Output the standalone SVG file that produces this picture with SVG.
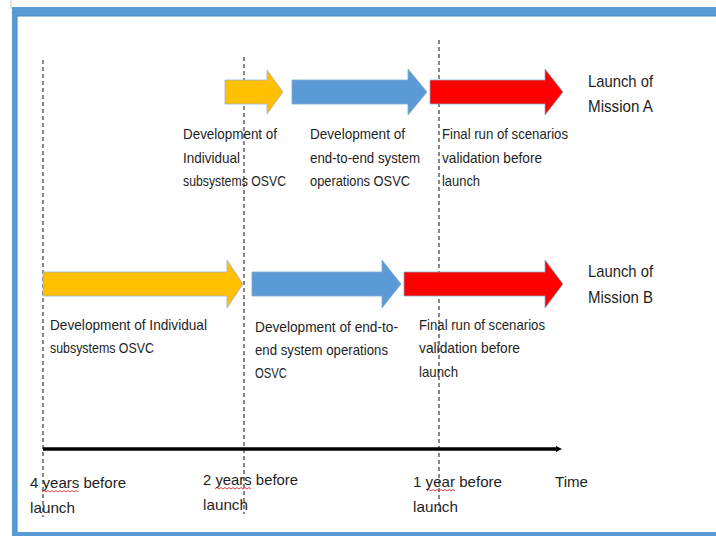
<svg xmlns="http://www.w3.org/2000/svg" width="716" height="536" viewBox="0 0 716 536">
  <style>
    .lbl { font-family: "Liberation Sans", Arial, sans-serif; font-size: 15px; fill: #1e1e1e; }
    .big { font-family: "Liberation Sans", Arial, sans-serif; font-size: 17px; fill: #1e1e1e; }
    .guide { stroke: #111; stroke-width: 1; stroke-dasharray: 4 3; fill: none; }
    .yellow { fill: #FFC000; stroke: #9db3d6; stroke-width: 0.8; }
    .blue { fill: #5B9BD5; stroke: #7fa7d4; stroke-width: 0.8; }
    .red { fill: #FF0000; stroke: #8aa6cf; stroke-width: 0.8; }
    .squiggle { fill: none; stroke: #e03030; stroke-width: 0.9; }
  </style>
  <defs>
    <marker id="axisHead" viewBox="0 0 6 6" refX="1" refY="3" markerWidth="6" markerHeight="6" markerUnits="userSpaceOnUse" orient="auto">
      <path d="M0,0 L6,3 L0,6 Z" fill="#000"/>
    </marker>
  </defs>

  <rect width="716" height="536" fill="#ffffff"/>

  <!-- window frame -->
  <line x1="11" y1="0" x2="11" y2="9" stroke="#c8c8c8" stroke-width="1"/>
  <path d="M12,7 H716 V536 H12 Z M17,16 V532 H716 V16 Z" fill="#5B9BD5" fill-rule="evenodd"/>
  <path d="M17,16 H716 M17,16 V532" stroke="#4a86c0" stroke-width="1" fill="none"/>

  <g id="connectors">
    <!-- milestone guides -->
    <line class="guide" x1="43" y1="60" x2="43" y2="517"/>
    <line class="guide" x1="244" y1="57" x2="244" y2="514"/>
    <line class="guide" x1="439" y1="40" x2="439" y2="512"/>
    <!-- time axis -->
    <line x1="43" y1="449" x2="557" y2="449" stroke="#000" stroke-width="3.5" marker-end="url(#axisHead)"/>
  </g>

  <!-- Mission A row -->
  <g id="a-individual">
    <path class="yellow" d="M225,80 H267 V70 L283,92 L267,114 V104 H225 Z"/>
    <text class="lbl" x="183" y="139" textLength="94" lengthAdjust="spacingAndGlyphs">Development of</text>
    <text class="lbl" x="183" y="163" textLength="57" lengthAdjust="spacingAndGlyphs">Individual</text>
    <text class="lbl" x="183" y="186" textLength="103" lengthAdjust="spacingAndGlyphs">subsystems OSVC</text>
  </g>
  <g id="a-end-to-end">
    <path class="blue" d="M292,80 H408 V69 L427,92 L408,115 V104 H292 Z"/>
    <text class="lbl" x="310" y="139" textLength="95" lengthAdjust="spacingAndGlyphs">Development of</text>
    <text class="lbl" x="310" y="163" textLength="110" lengthAdjust="spacingAndGlyphs">end-to-end system</text>
    <text class="lbl" x="310" y="186" textLength="100" lengthAdjust="spacingAndGlyphs">operations OSVC</text>
  </g>
  <g id="a-final-run">
    <path class="red" d="M430,80 H545 V69 L563,92 L545,115 V104 H430 Z"/>
    <text class="lbl" x="442" y="139" textLength="126" lengthAdjust="spacingAndGlyphs">Final run of scenarios</text>
    <text class="lbl" x="442" y="163" textLength="100" lengthAdjust="spacingAndGlyphs">validation before</text>
    <text class="lbl" x="442" y="186" textLength="38" lengthAdjust="spacingAndGlyphs">launch</text>
  </g>
  <g id="a-launch">
    <text class="big" x="588" y="87" textLength="65" lengthAdjust="spacingAndGlyphs">Launch of</text>
    <text class="big" x="588" y="112" textLength="65" lengthAdjust="spacingAndGlyphs">Mission A</text>
  </g>

  <!-- Mission B row -->
  <g id="b-individual">
    <path class="yellow" d="M43,272 H227 V260 L243,284 L227,308 V296 H43 Z"/>
    <text class="lbl" x="50" y="330" textLength="157" lengthAdjust="spacingAndGlyphs">Development of Individual</text>
    <text class="lbl" x="50" y="353" textLength="104" lengthAdjust="spacingAndGlyphs">subsystems OSVC</text>
  </g>
  <g id="b-end-to-end">
    <path class="blue" d="M252,272 H382 V260 L401,284 L382,308 V296 H252 Z"/>
    <text class="lbl" x="255" y="332" textLength="143" lengthAdjust="spacingAndGlyphs">Development of end-to-</text>
    <text class="lbl" x="255" y="355" textLength="133" lengthAdjust="spacingAndGlyphs">end system operations</text>
    <text class="lbl" x="255" y="378" textLength="32" lengthAdjust="spacingAndGlyphs">OSVC</text>
  </g>
  <g id="b-final-run">
    <path class="red" d="M404,272 H545 V260 L563,284 L545,308 V296 H404 Z"/>
    <text class="lbl" x="419" y="330" textLength="126" lengthAdjust="spacingAndGlyphs">Final run of scenarios</text>
    <text class="lbl" x="419" y="353" textLength="101" lengthAdjust="spacingAndGlyphs">validation before</text>
    <text class="lbl" x="419" y="377" textLength="39" lengthAdjust="spacingAndGlyphs">launch</text>
  </g>
  <g id="b-launch">
    <text class="big" x="588" y="277" textLength="65" lengthAdjust="spacingAndGlyphs">Launch of</text>
    <text class="big" x="588" y="303" textLength="65" lengthAdjust="spacingAndGlyphs">Mission B</text>
  </g>

  <!-- time axis labels -->
  <g id="t-4-years">
    <text class="lbl" x="30" y="488" textLength="96" lengthAdjust="spacingAndGlyphs">4 years before</text>
    <text class="lbl" x="30" y="513" textLength="45" lengthAdjust="spacingAndGlyphs">launch</text>
    <path class="squiggle" d="M42,492 l2,-1.5 l2,1.5 l2,-1.5 l2,1.5 l2,-1.5 l2,1.5 l2,-1.5 l2,1.5 l2,-1.5 l2,1.5 l2,-1.5 l2,1.5 l2,-1.5 l2,1.5 l2,-1.5 l2,1.5 l2,-1.5 l2,1.5"/>
  </g>
  <g id="t-2-years">
    <text class="lbl" x="203" y="485" textLength="95" lengthAdjust="spacingAndGlyphs">2 years before</text>
    <text class="lbl" x="203" y="510" textLength="45" lengthAdjust="spacingAndGlyphs">launch</text>
    <path class="squiggle" d="M215,489 l2,-1.5 l2,1.5 l2,-1.5 l2,1.5 l2,-1.5 l2,1.5 l2,-1.5 l2,1.5 l2,-1.5 l2,1.5 l2,-1.5 l2,1.5 l2,-1.5 l2,1.5 l2,-1.5 l2,1.5 l2,-1.5 l2,1.5"/>
  </g>
  <g id="t-1-year">
    <text class="lbl" x="413" y="487" textLength="89" lengthAdjust="spacingAndGlyphs">1 year before</text>
    <text class="lbl" x="413" y="512" textLength="45" lengthAdjust="spacingAndGlyphs">launch</text>
    <path class="squiggle" d="M427,491 l2,-1.5 l2,1.5 l2,-1.5 l2,1.5 l2,-1.5 l2,1.5 l2,-1.5 l2,1.5 l2,-1.5 l2,1.5 l2,-1.5 l2,1.5 l2,-1.5 l2,1.5"/>
  </g>
  <g id="t-time">
    <text class="lbl" x="555" y="487" textLength="33" lengthAdjust="spacingAndGlyphs">Time</text>
  </g>
</svg>
